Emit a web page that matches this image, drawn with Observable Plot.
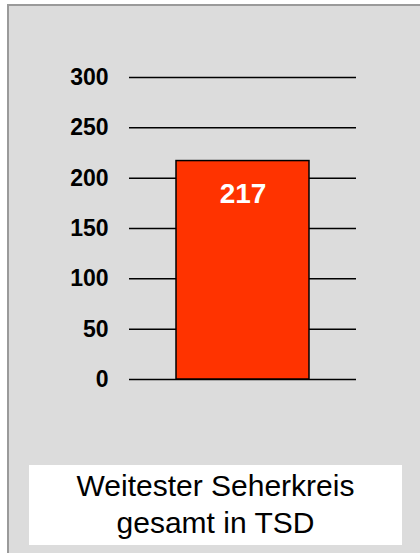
<!DOCTYPE html>
<html>
<head>
<meta charset="utf-8">
<script src="https://cdn.jsdelivr.net/npm/d3@7"></script>
<script src="https://cdn.jsdelivr.net/npm/@observablehq/plot@0.6"></script>
<style>
  html, body { margin: 0; padding: 0; background: #ffffff; width: 420px; height: 553px; overflow: hidden; }
  #frame { position: absolute; left: 7px; top: 4px; width: 420px; height: 560px; background: #dcdcdc;
           border-left: 2px solid #9a9a9a; border-top: 2px solid #9a9a9a; }
  #chart { position: absolute; left: 0; top: 0; }
  #caption { position: absolute; left: 29px; top: 465px; width: 373px; height: 80px; background: #ffffff;
             font-family: "Liberation Sans", Arial, sans-serif; font-size: 30px; line-height: 36.5px;
             text-align: center; color: #000; box-sizing: border-box; padding-top: 3px; }
</style>
</head>
<body>
<div id="frame"></div>
<div id="chart"></div>
<div id="caption">Weitester Seherkreis<br>gesamt in TSD</div>
<script>
const categories = ["Weitester Seherkreis gesamt in TSD"];
const values = [217];
const yTicks = [0, 50, 100, 150, 200, 250, 300];

const data = categories.map((c, i) => ({category: c, value: values[i]}));

const chart = Plot.plot({
  width: 420,
  height: 440,
  marginTop: 77,
  marginBottom: 61,
  marginLeft: 129,
  marginRight: 64,
  style: {background: "transparent", fontFamily: "'Liberation Sans', Arial, sans-serif"},
  x: {domain: categories, padding: 0.261, axis: null},
  y: {domain: [0, 300], ticks: yTicks},
  marks: [
    Plot.ruleY(yTicks, {stroke: "#000", strokeWidth: 1.5}),
    Plot.barY(data, {x: "category", y: "value", fill: "#ff3300", stroke: "#000", strokeWidth: 1.5}),
    Plot.text(data, {x: "category", y: "value", text: d => String(d.value), dy: 33,
      fill: "#ffffff", fontSize: 28, fontWeight: "bold"}),
    Plot.axisY(yTicks, {tickSize: 0, tickPadding: 21, fontSize: 23, fontWeight: "bold", fill: "#000", label: null})
  ]
});
document.getElementById("chart").appendChild(chart);
</script>
</body>
</html>
